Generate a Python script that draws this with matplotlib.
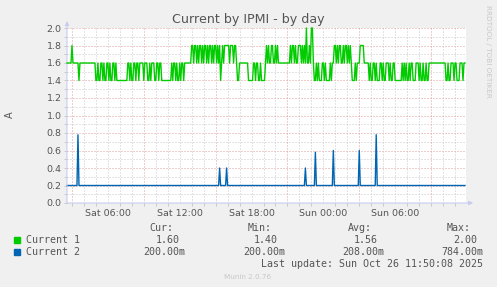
import numpy as np
import matplotlib
matplotlib.use("Agg")
import matplotlib.pyplot as plt
import matplotlib.dates as mdates

# 5 minute samples, one day graph (400 samples)
inicio = np.datetime64("2025-10-25T02:35")
paso = np.timedelta64(5, "m")
n_muestras = 400

# Current 1: (valor, numero de muestras)
current1_runs = [
    (1.6, 5), (1.8, 1), (1.6, 6), (1.4, 1), (1.6, 16),
    (1.4, 2), (1.6, 1), (1.4, 2), (1.6, 2), (1.4, 1), (1.6, 1), (1.4, 2), (1.6, 2),
    (1.4, 1), (1.6, 1), (1.4, 2), (1.6, 2), (1.4, 1), (1.6, 1), (1.4, 2),
    (1.4, 9),
    (1.6, 2), (1.4, 1), (1.6, 1), (1.4, 2), (1.6, 2), (1.4, 1), (1.6, 2), (1.4, 1),
    (1.6, 4), (1.4, 1), (1.6, 3), (1.4, 2), (1.6, 1), (1.4, 1), (1.6, 3), (1.4, 2),
    (1.6, 2), (1.4, 1), (1.6, 2), (1.4, 1),
    (1.4, 9),
    (1.6, 1), (1.4, 1), (1.6, 2), (1.4, 1), (1.6, 1), (1.4, 2), (1.6, 1), (1.4, 1),
    (1.6, 2), (1.4, 1),
    (1.6, 7),
    (1.8, 2), (1.6, 1), (1.8, 2), (1.6, 1), (1.8, 1), (1.6, 1), (1.8, 2), (1.6, 1),
    (1.8, 1), (1.6, 1), (1.8, 2), (1.6, 1), (1.8, 1), (1.6, 1), (1.8, 2), (1.6, 1),
    (1.8, 1), (1.6, 1), (1.8, 2), (1.6, 1), (1.8, 1), (1.6, 1), (1.8, 1), (1.4, 1),
    (1.6, 1), (1.8, 1), (1.6, 1), (1.8, 5), (1.6, 1), (1.8, 3), (1.6, 1), (1.8, 2),
    (1.6, 1), (1.4, 2), (1.6, 9),
    (1.4, 5),
    (1.6, 2), (1.4, 1), (1.6, 2), (1.4, 2), (1.6, 1), (1.4, 4), (1.6, 1),
    (1.8, 1), (1.6, 1), (1.8, 1), (1.6, 2), (1.8, 2), (1.6, 2), (1.8, 1), (1.6, 1),
    (1.8, 1), (1.6, 4),
    (1.6, 8),
    (1.8, 1), (1.6, 1), (1.8, 2), (1.6, 1), (1.8, 1), (1.6, 2), (1.8, 3), (1.6, 1),
    (1.8, 1), (1.6, 1), (1.8, 1), (1.6, 1),
    (2.0, 1), (1.6, 2), (1.8, 1), (1.6, 1), (2.0, 2), (1.6, 1),
    (1.4, 2), (1.6, 1), (1.4, 1), (1.6, 1), (1.4, 3), (1.6, 2), (1.4, 1), (1.6, 1),
    (1.4, 4), (1.6, 1), (1.4, 1), (1.6, 2),
    (1.8, 2), (1.6, 1), (1.8, 1), (1.6, 1), (1.8, 2), (1.6, 2), (1.8, 1), (1.6, 1),
    (1.8, 2), (1.6, 1), (1.8, 1), (1.6, 1), (1.8, 1), (1.6, 1),
    (1.4, 3), (1.6, 1), (1.4, 1), (1.6, 3), (1.8, 4), (1.6, 5),
    (1.4, 1), (1.6, 1), (1.4, 2), (1.6, 2), (1.4, 1), (1.6, 1), (1.4, 3), (1.6, 2),
    (1.4, 1), (1.6, 1), (1.4, 2), (1.6, 3), (1.4, 1), (1.6, 1), (1.4, 2), (1.6, 2),
    (1.4, 7), (1.6, 1), (1.4, 1), (1.6, 1), (1.4, 1), (1.6, 1), (1.4, 2), (1.6, 1),
    (1.4, 1), (1.6, 2), (1.4, 3), (1.6, 3), (1.4, 1), (1.6, 1), (1.4, 2), (1.6, 1),
    (1.4, 2), (1.6, 1), (1.4, 2),
    (1.6, 17),
    (1.4, 2), (1.6, 1), (1.4, 2), (1.6, 3), (1.4, 1), (1.6, 2), (1.4, 3), (1.6, 3),
    (1.4, 1), (1.6, 2),
]

# Current 2: base de 0.2 con picos aislados
current2_base = 0.2
current2_picos_idx = [11, 153, 160, 239, 249, 267, 293, 310]
current2_picos_val = [0.78, 0.40, 0.40, 0.40, 0.58, 0.60, 0.60, 0.78]

leyenda_nombres = ["Current 1", "Current 2"]
leyenda_colores = ["#00CC00", "#0066B3"]
columnas = ["Cur:", "Min:", "Avg:", "Max:"]
valores_tabla = [
    ["1.60", "1.40", "1.56", "2.00"],
    ["200.00m", "200.00m", "208.00m", "784.00m"],
]

niveles = [r[0] for r in current1_runs]
cuentas = [r[1] for r in current1_runs]
current1 = np.repeat(niveles, cuentas)[:n_muestras]
current2 = np.full(n_muestras, current2_base)
current2[current2_picos_idx] = current2_picos_val
tiempos = inicio + np.arange(n_muestras) * paso

W, H = 497, 287
fig = plt.figure(figsize=(W / 100, H / 100), dpi=100, facecolor="#F0F0F0")


def px(x, y):
    return x / W, 1 - y / H


izq, der, arriba, abajo = 67, 466, 28, 203
ax = fig.add_axes([izq / W, 1 - abajo / H, (der - izq) / W, (abajo - arriba) / H])
ax.set_facecolor("white")

gris_texto = "#555555"
rojo_grid = "#E09C9C"
gris_grid = "#C8C8C8"
punteado = (0, (1, 2))

ax.set_ylim(0, 2.0)
ax.set_xlim(tiempos[0], tiempos[0] + n_muestras * paso)
ax.set_yticks(np.arange(0, 2.01, 0.2))
ax.set_yticks(np.arange(0.1, 2.0, 0.2), minor=True)
ax.yaxis.set_major_formatter(plt.FuncFormatter(lambda v, p: f"{v:.1f}"))

ax.xaxis.set_major_locator(mdates.HourLocator(byhour=[0, 6, 12, 18]))
ax.xaxis.set_major_formatter(mdates.DateFormatter("%a %H:%M"))
ax.xaxis.set_minor_locator(mdates.HourLocator())

ax.tick_params(axis="both", which="both", labelsize=6.8, labelcolor=gris_texto,
               length=2, width=0.7, pad=2, color=gris_grid)
ax.tick_params(axis="x", which="major", length=0, pad=4)

for s in ax.spines.values():
    s.set_visible(False)

# rejilla
for v in np.arange(0.1, 2.0, 0.2):
    ax.axhline(v, color=gris_grid, lw=0.72, ls=punteado, zorder=1)
for v in np.arange(0.2, 2.01, 0.2):
    ax.axhline(v, color=rojo_grid, lw=0.72, ls=punteado, zorder=1, clip_on=False)
hora = np.timedelta64(1, "h")
primera = np.datetime64("2025-10-25T03:00")
for k in range(-1, 36):
    t = primera + k * hora
    if t < tiempos[0] or t > tiempos[-1]:
        continue
    color = rojo_grid if k % 6 == 0 else gris_grid
    ax.axvline(t, color=color, lw=0.72, ls=punteado, zorder=1)

ax.plot(tiempos, current2, color=leyenda_colores[1], lw=1.0, zorder=3, clip_on=False)
ax.plot(tiempos, current1, color=leyenda_colores[0], lw=1.0, zorder=4, clip_on=False)

# ejes con flechas
color_eje = "#C8CCF0"
ax.annotate("", xy=(0, 1.04), xytext=(0, 0), xycoords="axes fraction",
            arrowprops=dict(arrowstyle="-|>", color=color_eje, lw=0.8,
                            mutation_scale=6, shrinkA=0, shrinkB=0),
            annotation_clip=False)
ax.annotate("", xy=(1.018, 0), xytext=(0, 0), xycoords="axes fraction",
            arrowprops=dict(arrowstyle="-|>", color=color_eje, lw=0.8,
                            mutation_scale=6, shrinkA=0, shrinkB=0),
            annotation_clip=False)

fig.text(*px(248, 19), "Current by IPMI - by day", ha="center", va="center",
         fontsize=9.1, color=gris_texto)
fig.text(*px(10, 115), "A", ha="center", va="center", rotation=90,
         fontsize=7, color=gris_texto)
fig.text(*px(488, 5), "RRDTOOL / TOBI OETIKER", ha="center", va="top",
         rotation=270, fontsize=5.2, color="#C8C8C8")

mono = "DejaVu Sans Mono"
col_x = [149, 248, 348, 447]
for x, c in zip(col_x, columnas):
    fig.text(*px(x, 228), c, ha="left", va="center", family=mono,
             fontsize=7.2, color=gris_texto)

valor_x = [[156, 254, 354, 453], [143, 243, 342, 441]]
filas_y = [240, 252]
for fila in range(2):
    y = filas_y[fila]
    fig.patches.append(plt.Rectangle(px(14, y + 3), 6 / W, 6 / H,
                                     transform=fig.transFigure,
                                     color=leyenda_colores[fila]))
    fig.text(*px(26, y), leyenda_nombres[fila], ha="left", va="center",
             family=mono, fontsize=7.2, color=gris_texto)
    for x, v in zip(valor_x[fila], valores_tabla[fila]):
        fig.text(*px(x, y), v, ha="left", va="center", family=mono,
                 fontsize=7.2, color=gris_texto)

fig.text(*px(261, 264), "Last update: Sun Oct 26 11:50:08 2025", ha="left",
         va="center", family=mono, fontsize=7.2, color=gris_texto)
fig.text(*px(248, 277), "Munin 2.0.76", ha="center", va="center",
         fontsize=5.2, color="#C8C8C8")

fig.savefig("out.png", dpi=100, facecolor=fig.get_facecolor())
